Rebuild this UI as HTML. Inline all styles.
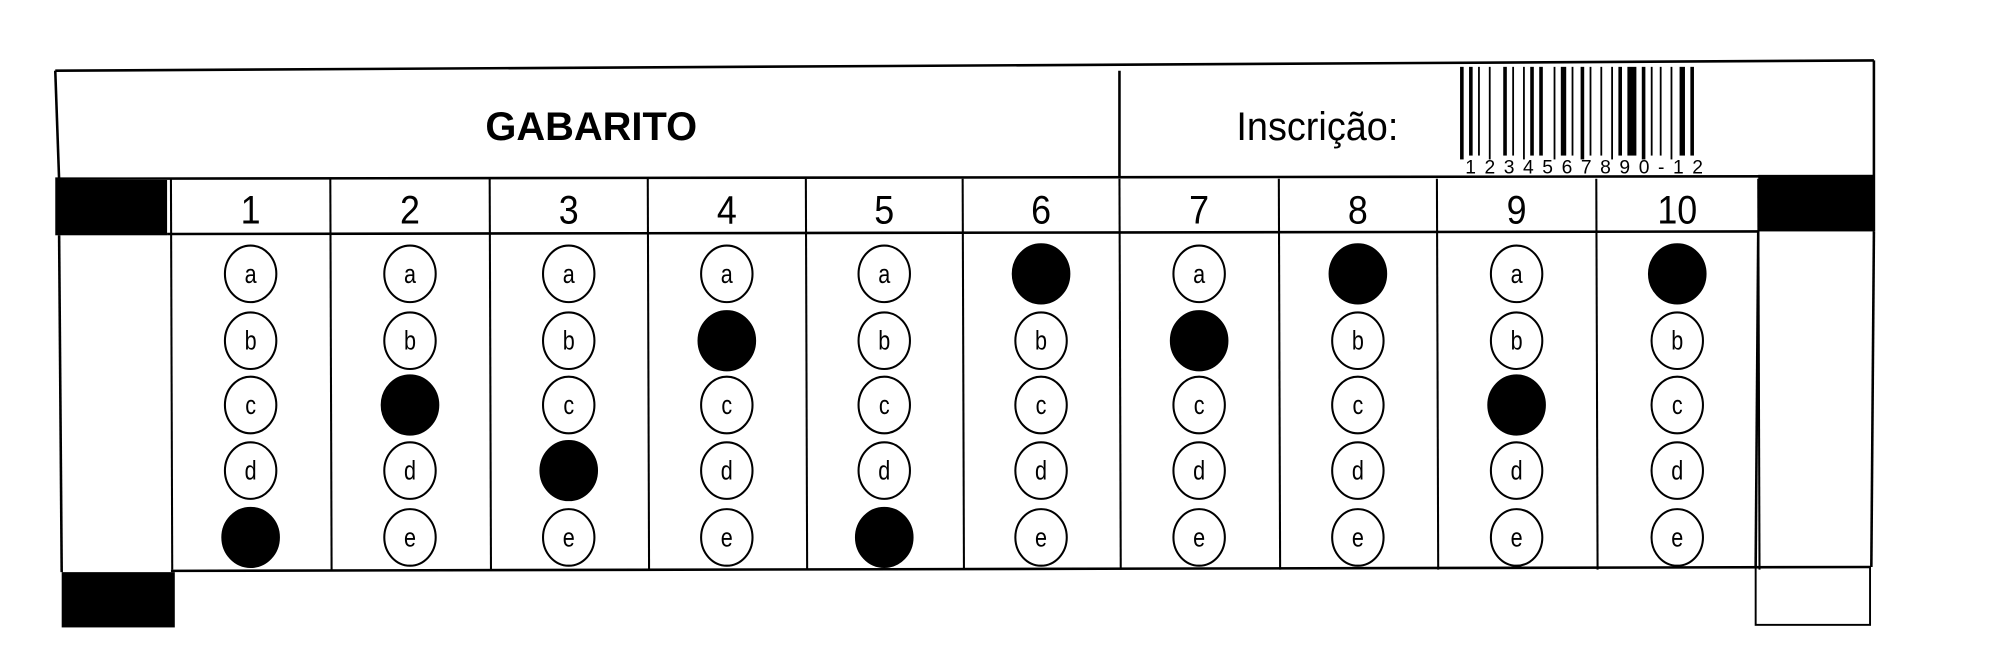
<!DOCTYPE html>
<html><head><meta charset="utf-8"><style>
html,body{margin:0;padding:0;background:#fff;}
svg{display:block;}
text{font-family:"Liberation Sans",Arial,sans-serif;fill:#000;}
</style></head><body>
<svg id="sheet" width="2005" height="666" viewBox="0 0 1560 518" preserveAspectRatio="none" xmlns="http://www.w3.org/2000/svg">
<g stroke="#000" stroke-width="2" fill="none">
  <line x1="43" y1="55" x2="1458" y2="47"/>
  <line x1="43" y1="55" x2="46" y2="140"/>
  <line x1="1458" y1="47" x2="1458" y2="180"/>
  <line x1="43" y1="139" x2="1458" y2="137"/>
  <line x1="871" y1="55" x2="871" y2="138"/>
  <line x1="130" y1="182" x2="1368" y2="180"/>
  <line x1="46" y1="183" x2="48" y2="445"/>
  <line x1="1368" y1="180" x2="1366" y2="441"/>
  <line x1="1458" y1="180" x2="1456" y2="441"/>
  <line x1="133" y1="444" x2="1455" y2="441"/>
</g>
<rect x="43" y="140" width="87" height="43" fill="#000"/>
<rect x="1368" y="136" width="90" height="44" fill="#000"/>
<rect x="48" y="445" width="88" height="43" fill="#000"/>
<rect x="1366" y="441" width="89" height="45" fill="none" stroke="#000" stroke-width="1.5"/>
<text x="460" y="109" font-size="31" font-weight="bold" text-anchor="middle">GABARITO</text>
<text x="1025" y="109" font-size="31" text-anchor="middle" transform="translate(1025 0) scale(0.95 1) translate(-1025 0)">Inscrição:</text>
<g id="barcode"></g>
<text x="1140" y="135" font-size="15" textLength="185" lengthAdjust="spacing" font-family="Liberation Mono">1234567890-12</text>
<g id="grid"></g>
</svg>
<script>
const questions = ["1","2","3","4","5","6","7","8","9","10"];
const options = ["a","b","c","d","e"];
const answers = ["e","c","d","b","e","a","b","a","c","a"];
const colEdges = [133,257,381,504,627,749,871,995,1118,1242,1368];
const barWidths = [2,1,2,1,1,3,1,5,2,1,1,3,1,1,2,1,2,4,1,1,3,1,1,2,2,1,1,3,1,3,1,1,2,1,5,1,2,1,1,2,1,3,1,2,3,1,2,1];
const NS="http://www.w3.org/2000/svg";
const grid=document.getElementById('grid');
const rowY=[213,265,315,366,418];
for(let i=0;i<colEdges.length;i++){
  const l=document.createElementNS(NS,'line');
  
  
  l.setAttribute('x1',colEdges[i]);l.setAttribute('x2',colEdges[i]+1);
  l.setAttribute('y1',139);l.setAttribute('y2',443);
  l.setAttribute('stroke','#000');l.setAttribute('stroke-width','1.6');
  grid.appendChild(l);
}
questions.forEach((q,i)=>{
  const cx=(colEdges[i]+colEdges[i+1])/2;
  const t=document.createElementNS(NS,'text');
  
  
  t.setAttribute('x',cx);t.setAttribute('y',174);
  t.setAttribute('font-size','31');t.setAttribute('text-anchor','middle');
  t.setAttribute('transform',`translate(${cx} 0) scale(0.9 1) translate(${-cx} 0)`);
  t.textContent=q;grid.appendChild(t);
  options.forEach((o,j)=>{
    const filled=answers[i]===o;
    const e=document.createElementNS(NS,'ellipse');
    
    
    e.setAttribute('cx',cx);e.setAttribute('cy',rowY[j]);
    e.setAttribute('rx',filled?22:20);e.setAttribute('ry',filled?23:22);
    e.setAttribute('fill',filled?'#000':'#fff');
    e.setAttribute('stroke','#000');e.setAttribute('stroke-width','1.6');
    grid.appendChild(e);
    if(!filled){
      const lt=document.createElementNS(NS,'text');
      
      
      lt.setAttribute('x',cx);lt.setAttribute('y',rowY[j]+7);
      lt.setAttribute('font-size','21');lt.setAttribute('text-anchor','middle');
      lt.setAttribute('transform',`translate(${cx} 0) scale(0.8 1) translate(${-cx} 0)`);
      lt.textContent=o;grid.appendChild(lt);
    }
  });
});
const bc=document.getElementById('barcode');
let x=1136;
barWidths.forEach((w,k)=>{
  if(k%2===0){
    const r=document.createElementNS(NS,'rect');
    
    
    r.setAttribute('x',x);r.setAttribute('y',52);
    r.setAttribute('width',w*1.4);r.setAttribute('height',k%6===0?72:69);
    r.setAttribute('fill','#000');bc.appendChild(r);
  }
  x+=w*1.4+(k%2===0?0:2.8);
});
</script>
</body></html>
